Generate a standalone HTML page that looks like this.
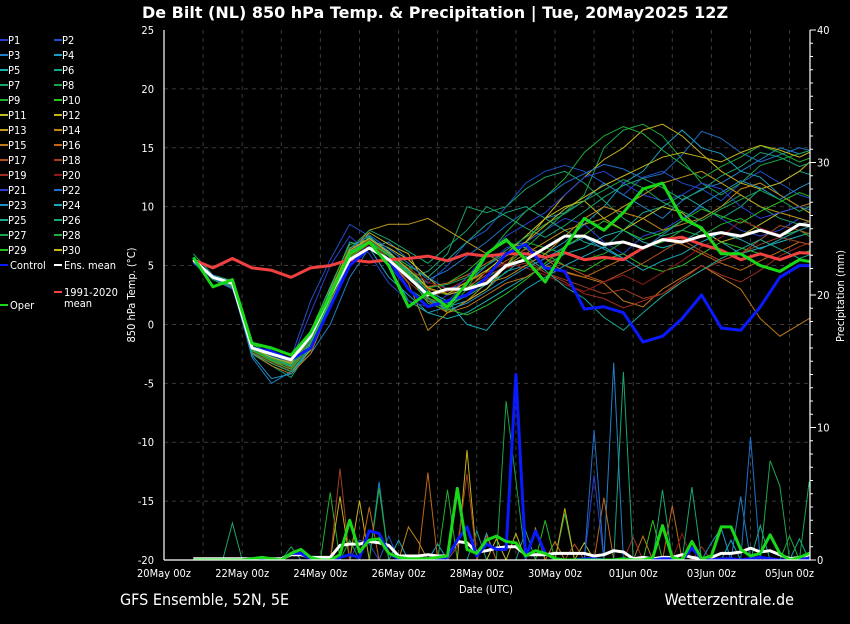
<!DOCTYPE html>
<html><head><meta charset="utf-8">
<style>
html,body{margin:0;padding:0;background:#000;}
body{width:850px;height:620px;overflow:hidden;font-family:"DejaVu Sans Condensed","DejaVu Sans","Liberation Sans",sans-serif;}
svg text{fill:#fff;}
</style></head>
<body>
<svg id="chart" width="850" height="620" viewBox="0 0 850 620" xmlns="http://www.w3.org/2000/svg">
<rect x="0" y="0" width="850" height="620" fill="#000"/>
<text x="435" y="18" text-anchor="middle" font-family="DejaVu Sans, sans-serif" font-weight="bold" font-size="16">De Bilt  (NL)  850 hPa Temp. &amp; Precipitation | Tue, 20May2025 12Z</text>
<defs><clipPath id="plotclip"><rect x="164" y="30" width="646" height="530"/></clipPath></defs>
<g id="grid"></g>
<g id="marks" clip-path="url(#plotclip)"></g>
<g id="axes"></g>
<g id="legend"></g>
<text transform="translate(135,295) rotate(-90)" text-anchor="middle" font-size="11">850 hPa Temp. (°C)</text>
<text transform="translate(844,296) rotate(-90)" text-anchor="middle" font-size="11">Precipitation (mm)</text>
<text x="486" y="593" text-anchor="middle" font-size="11">Date (UTC)</text>
<text x="120" y="605" font-size="16">GFS Ensemble, 52N, 5E</text>
<text x="794" y="605" text-anchor="end" font-size="16">Wetterzentrale.de</text>
</svg>
<script>
const tempTicks=[25,20,15,10,5,0,-5,-10,-15,-20];
const precipTicks=[40,30,20,10,0];
const dateLabels=["20May 00z","22May 00z","24May 00z","26May 00z","28May 00z","30May 00z","01Jun 00z","03Jun 00z","05Jun 00z"];
const ensMean=[5.5,4,3.5,-2,-2.5,-3,-1,2.5,5.5,6.5,5.5,4,2.5,3,3,3.5,5,5.5,6.5,7.5,7.5,6.8,7,6.5,7.2,7,7.5,7.8,7.5,8,7.5,8.5,8.3];
const control=[5.5,4,3.5,-2,-2.3,-3,-2,1.5,5,6.5,5.5,3,1.5,2,2.5,4,6,6.8,4.8,4.5,1.3,1.5,1,-1.5,-1,0.5,2.5,-0.3,-0.5,1.5,4,5,5];
const oper=[5.7,3.2,3.8,-1.6,-2,-2.6,-0.7,2.5,6,7,5,1.5,2.7,1.5,3.5,6,7.2,5.5,3.6,6.5,9,8,9.5,11.5,12,9,8.2,6,6,5,4.5,5.5,5.2];
const clim=[5.5,4.8,5.6,4.8,4.6,4,4.8,5,5.5,5.3,5.5,5.6,5.8,5.4,6,5.8,6,6,5.7,6.1,5.5,5.7,5.5,6.5,7.2,7.4,6.8,6.3,5.5,6,5.5,6.1,6];
const P1=[5.2,3.8,3,-1.5,-2.2,-3.5,-0.5,3,6,7,5,3,1.5,2,3.5,5,6.5,7,8,9,8.5,7,6,7.5,8,9,10,9,8,7.5,8,9,8.5];
const P2=[5.5,4.2,3.6,-2.2,-3,-2.8,2,5.5,8.5,7.5,6,4.5,3.5,5,7,8,10,12,13,13.5,13,12,11,12.5,13,12,11.5,10.5,12,13,12,11,10.5];
const P3=[5.3,3.9,3.4,-2.8,-5,-4,-2.5,0,4,6.5,7,5.5,4,3,3.5,5,6,7.5,9,9.5,10.5,12,11,10,9,10.5,11.5,12,13,14,15,14.5,15];
const P4=[5.6,4,3.2,-2,-2.5,-3.2,-1.5,3,7,6.5,4,2.5,1,1.5,2,3,4.5,5,6,7,8.5,10,12,13,15,16.5,15,14.5,13,12.5,11,10,9.5];
const P5=[5.4,4.1,3.5,-1.8,-2.8,-3.5,-2,2,6,7,5,2,1,0.5,1,2,3,4,5,6,6.5,7.5,8,7,6.5,7,8,7,6,6.5,7,7.5,8];
const P6=[5.5,4,3.3,-2.3,-3.2,-3.8,-1.8,2.2,5.5,7.5,6,5,4,5.5,7,8.5,9.5,10,9,8,7,6.5,8,9.5,10,11,10,9,10,11.5,12,13,12.5];
const P7=[6,4.2,3.7,-2.5,-3.5,-4.5,-2,1.5,5,6.5,5.5,4,4.5,6,10,9.5,10,11.5,12.5,13,12,10.5,9,8,7.5,8,9,10,11,10,9,8.5,9];
const P8=[5.5,3.8,3.1,-1.9,-2.6,-3.1,-0.8,2.8,6.5,7.5,5.5,3,2,1.5,2.5,4,5,6.5,8,9.5,11,15,16.5,17,16,14,12,11,12,13.5,14,14.5,15];
const P9=[5.6,4.1,3.4,-2.1,-2.9,-3.6,-1.2,2.6,6.2,7,6,5,3,2.5,3,4,6,7,6.5,6,5.5,6,7,6.5,7,8,7.5,8.5,9,8,7.5,8,7];
const P10=[5.4,3.9,3.2,-1.7,-2.4,-3,-0.6,3.2,6.8,7.2,5.8,4.2,3.2,3.5,4.5,6,7,6.5,6,5,4.5,5.5,6,5,4.5,5,6,7,6.5,6,5.5,6,6.5];
const P11=[5.5,4,3.5,-2,-3,-3.3,-1,2.5,6,7.2,6.5,5.5,4,2.5,3,4.5,6,7.5,9,10,10.5,9,8,9,10,9.5,8,7,7.5,8.5,9.5,10,9];
const P12=[5.3,4,3.6,-2.3,-3.3,-4,-2.2,1.8,5.8,7.8,6.8,6,3,1,2,3,5,7,9,11,12.5,14,15,16.5,17,16,14.5,13,12,11.5,12,13,14.5];
const P13=[5.5,4.1,3.3,-2.1,-2.9,-3.4,-1.3,2.4,6,8,8.5,8.5,9,8,7,6,5,6,7,8,8.5,9,10,11,12,12.5,13,12,11,10,9.5,9,8.5];
const P14=[5.6,4,3.4,-1.9,-2.8,-3.2,-1,2.8,6.5,7,5.5,3.5,-0.5,1,2,3.5,4,5,6,7.5,9,10,9.5,9,8,8.5,9,10,11.5,12,11,10,10.5];
const P15=[5.5,3.9,3.2,-2.4,-3.5,-4.2,-2.5,1.5,5.5,7,6,4.5,2,1,1.5,2.5,3.5,4,5,4.5,4,3.5,2,1.5,3,4,5,4,3,0.5,-1,0,1];
const P16=[5.4,4,3.4,-2.2,-3.1,-3.6,-1.4,2.2,5.8,7.2,6.2,4.6,3.2,3.5,4.2,5.2,6.1,6.8,5.6,4.4,4,4.8,5.6,6.4,7.2,6.8,6,5.2,4.6,5.4,6.2,7,6.6];
const P17=[5.5,4.1,3.5,-2,-2.9,-3.7,-1.6,2.4,6,7,5.8,4.4,2.4,2.8,3.6,4.4,5.4,6.4,5.6,5,4.2,3.6,4.4,5.2,6.2,7.2,6.2,5.4,6,7.2,8.4,8,7.4];
const P18=[5.6,4,3.3,-2.1,-3,-3.5,-1.2,2.6,6.2,7.2,6,4.2,3,2.6,3.2,4.2,4.8,5.6,4.4,3.8,3.2,2.6,3,2.2,2.6,3.6,4.6,5.4,6,6.8,7.4,7,6.6];
const P19=[5.5,4,3.4,-2,-2.8,-3.4,-1.4,2.4,5.8,6.8,5.6,3.6,2.2,1.8,2.6,3.8,4.8,5.2,4.4,3.6,2.6,2.2,1.4,2,2.6,3.8,5,4.2,3.6,4.6,5.8,6.6,7.2];
const P20=[5.4,3.9,3.3,-2.3,-3.2,-3.9,-1.7,2,5.6,6.8,5.8,4.8,3.6,3,3.8,4.4,5.2,4.8,4.2,3.4,2.8,3.6,4.2,3.4,4.4,5.4,6.6,7.4,8.8,8.2,7.6,8.4,9];
const P21=[5.5,4.1,3.6,-1.9,-2.6,-3.1,1,5,7.5,6,3.5,2,1.5,2.5,4,6,7.5,8.5,9.5,11,12.5,13,12,11,10.5,11,12,11.5,10,9,9.5,10,9.5];
const P22=[5.6,4.2,3.4,-2.1,-2.7,-3.3,-1.1,2.5,6.4,7.6,6.4,5.2,3.8,4.6,5.8,7,8.4,9.6,10.8,12,12.8,13.6,13.2,12.4,12.8,14.4,16.4,15.8,14.6,13.8,14.4,15,14.6];
const P23=[5.3,3.9,3.2,-2.6,-4.6,-4.2,-2,1.6,5.6,6.6,5.6,4,2.2,1.2,1.8,2.8,3.8,4.8,5.6,6.6,7.4,6.4,5.6,6.4,7.6,8.8,10.2,11.2,12.2,11.6,10.6,11.6,12.4];
const P24=[5.5,4,3.5,-2.2,-2.9,-3.5,-1.6,2.2,6,7.4,6.2,4.6,2.8,2,0,-0.5,1.5,3,4,5,5.8,6.6,5.6,4.6,5.4,6,7,7.8,7.2,6.4,7.2,8,8.6];
const P25=[5.4,4.1,3.4,-2,-2.8,-3.3,-1.2,2.6,6.2,7,6,4.4,2.6,1.8,2.4,3.4,4.4,5.8,4.6,3.2,2.2,0.6,-0.5,1,2.4,3.6,4.6,5.6,6.4,7.2,6.4,5.6,6.2];
const P26=[5.6,4,3.3,-2.4,-3.3,-4,-1.9,2,6.4,8,7.2,6.2,5.2,6.6,8,10,9.2,8.2,7.4,8.4,9.6,10.8,11.8,12.4,11.6,10.6,11.4,12.6,13.4,14.6,14.2,13.4,14];
const P27=[5.5,4,3.4,-2.1,-3,-3.6,-1.5,2.3,5.9,7.1,5.9,4.5,3.1,3.4,4,5,6.3,7.4,8.5,9.4,10.5,11.4,12.3,11.6,10.4,9.6,8.8,9.8,10.6,11.4,10.6,9.6,10.4];
const P28=[5.5,4.1,3.5,-2,-2.9,-3.4,-1.3,2.5,6.1,7,5.8,4.2,1.8,1.2,3,5.8,7.8,9.6,10.8,12.4,14.6,16,16.8,16.2,14.8,13.6,12.4,13.4,14.2,15.2,14.6,13.8,14.4];
const P29=[5.4,4,3.3,-2.2,-3.1,-3.8,-1.7,2.1,5.7,6.9,5.9,4.3,2.3,1.3,0.8,1.6,2.6,3.8,5.2,6.6,7.6,8.8,8,7.2,7.8,8.8,9.8,9.2,8.6,9.6,10.4,11.2,10.6];
const P30=[5.5,4.1,3.4,-2,-2.8,-3.3,-1.1,2.7,6.3,7.3,6.1,4.7,3.1,2.6,3.6,4.6,5.8,7,8.4,9.8,10.8,11.8,12.6,13.4,14.2,14.6,14.2,13.8,14.6,15.2,14.8,14.2,15];
const members=[P1,P2,P3,P4,P5,P6,P7,P8,P9,P10,P11,P12,P13,P14,P15,P16,P17,P18,P19,P20,P21,P22,P23,P24,P25,P26,P27,P28,P29,P30];
const memberColors=["#2a3fd0","#1f50c8","#1f80c8","#1a9fc0","#1ab0b0","#1aa48a","#1aa468","#1aa448","#20b030","#30c020","#c0c020","#c8b018","#c09c18","#c08818","#c07818","#c06818","#b05020","#a04020","#a02c20","#901818","#2a3fd0","#1f70c8","#1f90c8","#1aa8b8","#1aa890","#1aa470","#1aa450","#20ac38","#28bc20","#c0b818"];
const precipOper=[0,0,0,0,0,0,0.1,0.2,0.1,0,0.5,0.8,0.2,0,0,0.4,3,0.6,1.5,1.6,0.5,0.2,0.1,0.1,0.1,0.2,0.3,5.4,0.8,0.5,1.5,1.8,1.4,1.3,0.3,0.7,0.5,0.1,0,0,0,0,0,0,0.1,0,0,0.2,2.6,0.2,0,1.4,0.1,0.3,2.5,2.5,0.8,0.3,0.5,1.9,0.5,0,0.2,0.5,0.5];
const precipControl=[0,0,0,0,0,0,0.1,0.1,0,0,0.5,0.5,0.1,0,0,0.2,0.4,0.2,2.2,2,0.5,0.1,0,0,0.1,0.1,0.2,1.5,2.5,0.3,1.2,0.8,0.8,14,0.2,2.2,0.5,0.1,0,0,0.1,0.1,0,0,0.1,0,0,0,0.1,0.1,0,0.9,0.1,0,0.1,0.1,0,0.1,0.2,0.1,0,0,0.1,0.1,0.1];
const precipMean=[0.1,0.1,0.1,0.1,0.1,0.1,0.1,0.1,0.1,0.1,0.4,0.4,0.2,0.2,0.2,1.1,1.2,1.2,1.4,1.3,1.1,0.3,0.3,0.3,0.4,0.3,0.3,1.4,1.3,0.6,0.7,0.9,1,1,0.4,0.4,0.4,0.5,0.5,0.5,0.5,0.3,0.4,0.7,0.6,0.1,0.2,0.1,0.2,0.2,0.4,0.2,0.1,0.2,0.5,0.5,0.6,0.9,0.6,0.7,0.4,0.1,0.2,0.4,0.7];
const spikeMember=[6,8,8,8,17,17,17,11,11,11,11,15,15,15,15,2,2,2,7,7,7,21,21,25,25,25,26,26,26,20,4,13,28,9,0,1,3,5,10,12,14,16,18,19,22,23,24,27,29,0,3,5,10,14,18,22,24,27,29,6,13,16];
const spikeStep=[4,14,19,26,15,28,27,15,17,28,38,18,24,42,49,19,43,56,32,33,38,41,57,44,48,51,59,60,63,41,30,22,36,47,17,20,25,29,31,35,37,39,45,50,53,55,58,61,64,18,21,34,40,46,52,54,62,16,33,10,23,30];
const spikeValue=[2.8,5.1,5.4,5.3,6.9,6.5,1,4.8,4.5,8.3,3.9,4,6.6,4.7,4.1,5.9,14.9,4.8,12,6,3.5,9.8,9.3,14.2,5.3,5.5,7.5,5.6,5.9,6.4,2,2.5,3,3,1.5,1.8,1.2,2.2,1.6,2.4,1.4,1.2,1.7,2,1.3,1.5,2.6,1.8,1.4,1.2,1.5,2.2,1.3,1.8,1,2.4,1.6,1.5,2,1,1.4,1.8];

const NS='http://www.w3.org/2000/svg';
const X0=164,PX_DAY=39.1,T0=0.75;
function xTime(t){return X0+PX_DAY*t;}
function xTemp(i){return xTime(T0+0.5*i);}
function xPrec(i){return xTime(T0+0.25*i);}
function yTemp(v){return 560-(v+20)*(530/45);}
function yPrec(v){return 560-v*(530/40);}
function mk(tag,attrs,parent){const e=document.createElementNS(NS,tag);for(const k in attrs)e.setAttribute(k,attrs[k]);parent.appendChild(e);return e;}
const grid=document.getElementById('grid'),marks=document.getElementById('marks'),axes=document.getElementById('axes'),legend=document.getElementById('legend');

tempTicks.forEach(v=>{
  if(v>-20&&v<25){const g=mk('line',{x1:164,x2:810,y1:yTemp(v),y2:yTemp(v),stroke:'#3a3a3a','stroke-dasharray':'4,4','stroke-width':1},grid);
  
  }
});
for(let d=1;d<=16;d++){
  const g=mk('line',{x1:xTime(d),x2:xTime(d),y1:30,y2:560,stroke:'#3a3a3a','stroke-dasharray':'4,4','stroke-width':1},grid);
  
  
}
function path(vals,xf,yf){return vals.map((v,i)=>(i?'L':'M')+xf(i).toFixed(1)+','+yf(v).toFixed(1)).join('');}
members.forEach((m,k)=>{
  const arr=new Array(65).fill(0);
  spikeMember.forEach((mm,j)=>{if(mm===k)arr[spikeStep[j]]=spikeValue[j];});
  const p=mk('path',{d:path(arr,xPrec,yPrec),fill:'none',stroke:memberColors[k],'stroke-width':1},marks);
  
  
});
members.forEach((m,k)=>{
  const p=mk('path',{d:path(m,xTemp,yTemp),fill:'none',stroke:memberColors[k],'stroke-width':1},marks);
  
  
});
[[precipMean,'#ffffff','ens-mean-precip'],[precipControl,'#0a1aff','control-precip'],[precipOper,'#18d818','oper-precip']].forEach(s=>{
  const p=mk('path',{d:path(s[0],xPrec,yPrec),fill:'none',stroke:s[1],'stroke-width':3,'stroke-linejoin':'round'},marks);
  
  
});
[[clim,'#f04040','climate-mean-line'],[control,'#0a1aff','control-temp-line'],[ensMean,'#ffffff','ens-mean-temp-line'],[oper,'#18d818','oper-temp-line']].forEach(s=>{
  const p=mk('path',{d:path(s[0],xTemp,yTemp),fill:'none',stroke:s[1],'stroke-width':3,'stroke-linejoin':'round'},marks);
  
  
});
[[164,30,164,560],[810,30,810,560],[164,560,810,560]].forEach(a=>{
  const l=mk('line',{x1:a[0],y1:a[1],x2:a[2],y2:a[3],stroke:'#fff','stroke-width':1.2},axes);
  
  
});
tempTicks.forEach(v=>{
  const t=mk('text',{x:154,y:yTemp(v)+4,'text-anchor':'end','font-size':11},axes);t.textContent=v;
  
  
});
precipTicks.forEach(v=>{
  const t=mk('text',{x:817,y:yPrec(v)+4,'font-size':11},axes);t.textContent=v;
  
  
});
for(let v=0;v<=40;v++){
  const l=mk('line',{x1:810,x2:v%10===0?816:813,y1:yPrec(v),y2:yPrec(v),stroke:'#fff','stroke-width':1},axes);
  
  
}
dateLabels.forEach((s,i)=>{
  const t=mk('text',{x:xTime(2*i),y:577,'text-anchor':'middle','font-size':11},axes);t.textContent=s;
  
  
});
const legNames=[];for(let i=1;i<=30;i++)legNames.push('P'+i);
legNames.forEach((n,i)=>{
  const col=i%2,row=Math.floor(i/2);
  const x=col?54:0,y=40+row*15;
  const l=mk('line',{x1:x,x2:x+8,y1:y,y2:y,stroke:memberColors[i],'stroke-width':2},legend);
  
  
  const t=mk('text',{x:x+8,y:y+4,'font-size':11},legend);t.textContent=n;
  
  
});
[[0,265,'#0a1aff','Control'],[54,265,'#ffffff','Ens. mean'],[0,305,'#18d818','Oper'],[54,292,'#f04040','1991-2020']].forEach(e=>{
  const l=mk('line',{x1:e[0],x2:e[0]+8,y1:e[1],y2:e[1],stroke:e[2],'stroke-width':2},legend);
  
  
  const t=mk('text',{x:e[0]+10,y:e[1]+4,'font-size':11},legend);t.textContent=e[3];
  
  
});
const tm=mk('text',{x:64,y:307,'font-size':11},legend);tm.textContent='mean';


</script>
</body></html>
